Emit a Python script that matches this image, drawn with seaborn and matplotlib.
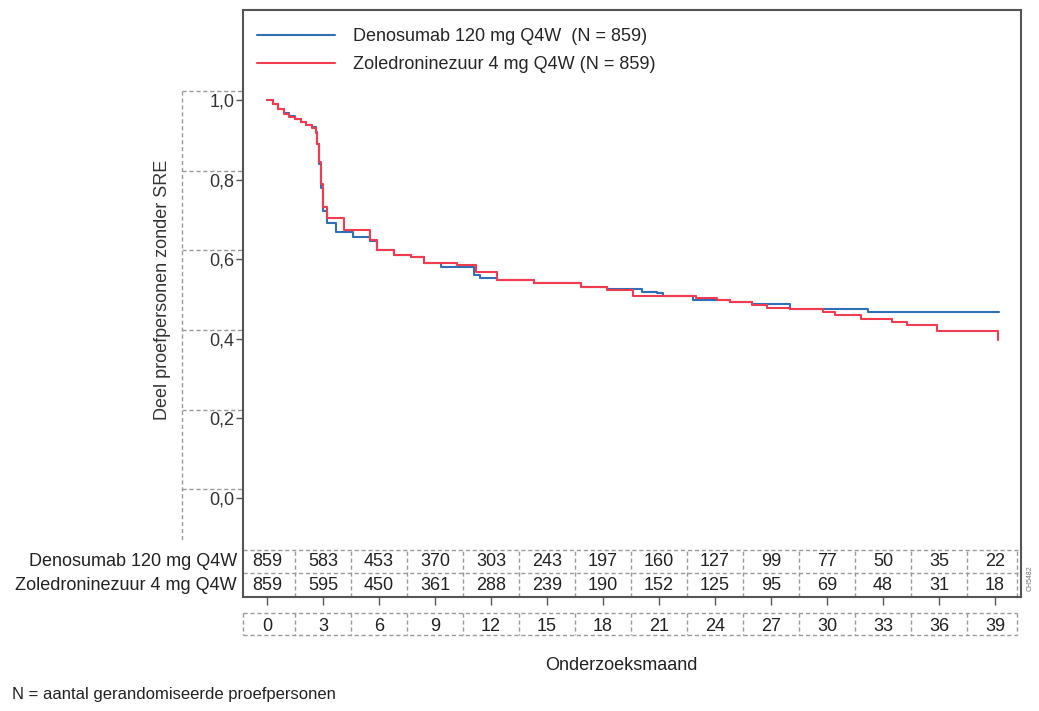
import numpy as np
import pandas as pd
import matplotlib.pyplot as plt
import seaborn as sns
from matplotlib.transforms import blended_transform_factory

# --- Kaplan-Meier curves ---
deno_label = "Denosumab 120 mg Q4W  (N = 859)"
zol_label = "Zoledroninezuur 4 mg Q4W (N = 859)"

deno_months = [0, 0.3, 0.6, 0.9, 1.2, 1.5, 1.8, 2.1, 2.4, 2.6, 2.7, 2.8, 2.9, 3.0, 3.2,
               3.7, 4.6, 5.5, 5.9, 6.8, 7.7, 8.4, 9.3, 11.1, 11.4, 12.3, 14.3, 16.8,
               18.2, 20.1, 20.9, 21.2, 22.8, 24.8, 26.0, 28.0, 32.2, 39.2]
deno_surv = [1.0, 0.99, 0.978, 0.968, 0.96, 0.953, 0.945, 0.938, 0.932, 0.92, 0.89,
             0.84, 0.78, 0.72, 0.69, 0.668, 0.656, 0.645, 0.623, 0.61, 0.605, 0.59,
             0.58, 0.56, 0.553, 0.548, 0.54, 0.53, 0.525, 0.518, 0.515, 0.508, 0.497,
             0.493, 0.488, 0.475, 0.468, 0.468]

zol_months = [0, 0.3, 0.6, 0.9, 1.2, 1.5, 1.8, 2.1, 2.4, 2.6, 2.7, 2.8, 2.9, 3.0, 3.2,
              4.1, 5.5, 5.9, 6.8, 7.7, 8.4, 10.2, 11.2, 12.3, 14.3, 16.8, 18.2, 19.6,
              23.0, 24.1, 24.8, 26.0, 26.8, 28.0, 29.8, 30.4, 31.8, 33.5, 34.3, 35.9,
              39.1, 39.15]
zol_surv = [1.0, 0.99, 0.977, 0.966, 0.958, 0.951, 0.944, 0.937, 0.93, 0.918, 0.89,
            0.845, 0.79, 0.73, 0.703, 0.673, 0.648, 0.623, 0.61, 0.605, 0.59, 0.585,
            0.568, 0.548, 0.54, 0.53, 0.522, 0.508, 0.502, 0.497, 0.493, 0.485, 0.477,
            0.475, 0.468, 0.46, 0.45, 0.442, 0.435, 0.42, 0.42, 0.397]

# --- Number at risk ---
risk_months = [0, 3, 6, 9, 12, 15, 18, 21, 24, 27, 30, 33, 36, 39]
deno_risk = [859, 583, 453, 370, 303, 243, 197, 160, 127, 99, 77, 50, 35, 22]
zol_risk = [859, 595, 450, 361, 288, 239, 190, 152, 125, 95, 69, 48, 31, 18]
row_labels = ["Denosumab 120 mg Q4W", "Zoledroninezuur 4 mg Q4W"]

y_ticks = [0.0, 0.2, 0.4, 0.6, 0.8, 1.0]
y_ticklabels = ["0,0", "0,2", "0,4", "0,6", "0,8", "1,0"]

df = pd.concat([
    pd.DataFrame({"month": deno_months, "surv": deno_surv, "arm": deno_label}),
    pd.DataFrame({"month": zol_months, "surv": zol_surv, "arm": zol_label}),
])

sns.set_theme(style="white")
plt.rcParams["font.family"] = ["Liberation Sans Narrow", "Liberation Sans", "DejaVu Sans"]

BLUE = "#2f6fb8"
RED = "#f23b4f"
FRAME = "#555555"
DASH = "#9a9a9a"

W, H = 1039, 711
fig = plt.figure(figsize=(W / 100, H / 100), dpi=100)

def fx(px):
    return px / W

def fy(py):
    return 1 - py / H

# main axes: px 243..1021 horizontally, 10..549 vertically
ax = fig.add_axes([fx(243), fy(549), fx(1021) - fx(243), fy(10) - fy(549)])
sns.lineplot(data=df, x="month", y="surv", hue="arm",
             palette={deno_label: BLUE, zol_label: RED},
             drawstyle="steps-post", linewidth=1.5, errorbar=None,
             estimator=None, sort=False, ax=ax)

ax.set_xlim(-1.285, 40.39)
ax.set_ylim(-0.128, 1.226)
ax.set_xticks([])
ax.set_yticks(y_ticks)
ax.set_yticklabels(y_ticklabels, fontsize=13, color="#333333")
ax.tick_params(axis="y", direction="out", length=5, width=1, color=FRAME, pad=1, left=True)
ax.set_xlabel("")
ax.set_ylabel("Deel proefpersonen zonder SRE", fontsize=13, color="#333333")
ax.yaxis.set_label_coords(-0.092, 0.48)
for side in ["left", "top", "right"]:
    ax.spines[side].set_color(FRAME)
    ax.spines[side].set_linewidth(1.5)
ax.spines["bottom"].set_visible(False)

handles, labels = ax.get_legend_handles_labels()
ax.legend(handles, labels, loc="upper left", bbox_to_anchor=(0.018, 0.966),
          frameon=False, fontsize=13, handlelength=4.3, handletextpad=1.0,
          labelspacing=0.6, borderaxespad=0, borderpad=0)

# dashed cell grid around the y tick labels
tr = blended_transform_factory(ax.transAxes, ax.transData)
x_box = (182 - 243) / 778
for v in y_ticks:
    ax.plot([x_box, 0], [v + 0.022, v + 0.022], transform=tr, clip_on=False,
            color=DASH, lw=1, ls=(0, (3, 2)))
ax.plot([x_box, x_box], [1.022, -0.11], transform=tr, clip_on=False,
        color=DASH, lw=1, ls=(0, (3, 2)))

# --- number-at-risk table ---
tab = fig.add_axes([fx(243), fy(597), fx(1021) - fx(243), fy(549) - fy(597)])
tab.set_xlim(ax.get_xlim())
tab.set_ylim(0, 2)
tab.set_facecolor("none")
for m, d, z in zip(risk_months, deno_risk, zol_risk):
    tab.text(m, 1.48, str(d), ha="center", va="center", fontsize=13, color="#222222")
    tab.text(m, 0.48, str(z), ha="center", va="center", fontsize=13, color="#222222")
tab.axhline(1.96, color=DASH, lw=1, ls=(0, (3, 2)))
tab.axhline(1.0, color=DASH, lw=1, ls=(0, (3, 2)))
mids = [(a + b) / 2 for a, b in zip(risk_months[:-1], risk_months[1:])]
for mm in mids:
    tab.axvline(mm, color=DASH, lw=1, ls=(0, (3, 2)))
tab.axvline(40.2, color=DASH, lw=1, ls=(0, (3, 2)))
for side in ["left", "bottom", "right"]:
    tab.spines[side].set_color(FRAME)
    tab.spines[side].set_linewidth(1.5)
tab.spines["top"].set_visible(False)
tab.set_yticks([])
tab.set_xticks(risk_months)
tab.set_xticklabels([str(m) for m in risk_months], fontsize=13, color="#222222")
tab.tick_params(axis="x", direction="out", length=6, width=1, color=FRAME, pad=9, bottom=True)
tab.grid(False)

for lbl, yy in zip(row_labels, [1.48, 0.48]):
    tab.text(-0.008, yy, lbl, transform=blended_transform_factory(tab.transAxes, tab.transData),
             ha="right", va="center", fontsize=13, color="#222222")

# dashed boxes around the month labels
tr2 = blended_transform_factory(tab.transData, tab.transAxes)
y_top, y_bot = -0.33, -0.79
tab.plot([-1.285, 40.2], [y_top, y_top], transform=tr2, clip_on=False,
         color=DASH, lw=1, ls=(0, (3, 2)))
tab.plot([-1.285, 40.2], [y_bot, y_bot], transform=tr2, clip_on=False,
         color=DASH, lw=1, ls=(0, (3, 2)))
for mm in [-1.285] + mids + [40.2]:
    tab.plot([mm, mm], [y_top, y_bot], transform=tr2, clip_on=False,
             color=DASH, lw=1, ls=(0, (3, 2)))

fig.text(fx(621), fy(665), "Onderzoeksmaand", ha="center", va="center",
         fontsize=13, color="#222222")
fig.text(fx(12), fy(695), "N = aantal gerandomiseerde proefpersonen", ha="left",
         va="center", fontsize=12, color="#222222")
fig.text(fx(1030), fy(578), "CH5482", rotation=90, ha="center", va="center",
         fontsize=5, color="#777777")

fig.savefig("out.png", dpi=100)
